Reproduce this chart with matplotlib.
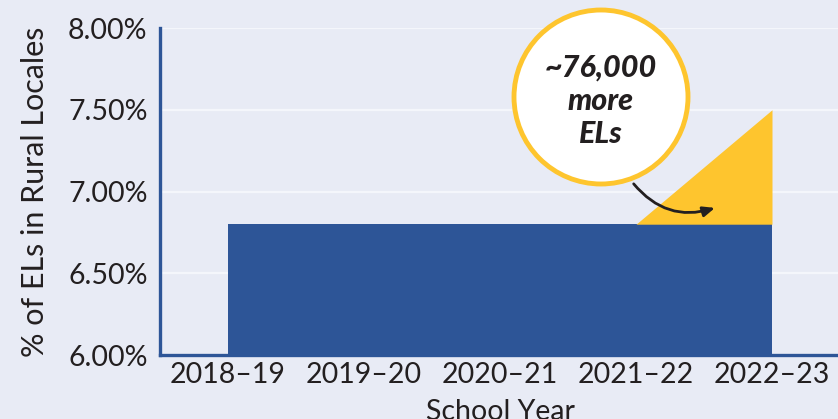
"""Share of English learners in rural locales, 2018-19 to 2022-23."""

import matplotlib

matplotlib.use("Agg")
import matplotlib.pyplot as plt
from matplotlib.patches import Circle
from matplotlib.ticker import FuncFormatter

SCHOOL_YEARS = ["2018–19", "2019–20", "2020–21", "2021–22", "2022–23"]
BASELINE_PCT = [6.80, 6.80, 6.80, 6.80, 6.80]
# growth above the baseline; only the last two years are drawn
GROWTH_YEARS = ["2021–22", "2022–23"]
GROWTH_PCT = [0.00, 0.70]
Y_TICKS = [6.00, 6.50, 7.00, 7.50, 8.00]
CALLOUT_LINES = ["~76,000", "more", "ELs"]

BACKGROUND = "#e8ebf5"
GRID = "#f4f6fb"
BLUE = "#2d5597"
YELLOW = "#fec52e"
INK = "#231f20"

plt.rcParams["font.family"] = ["Lato", "DejaVu Sans"]

fig = plt.figure(figsize=(8.38, 4.19), dpi=100, facecolor=BACKGROUND)
ax = fig.add_axes([160 / 838, 64 / 419, 680 / 838, 327 / 419])
ax.set_facecolor(BACKGROUND)

x = list(range(len(SCHOOL_YEARS)))
ax.fill_between(x, 0, BASELINE_PCT, color=BLUE, linewidth=0, zorder=2)

gx = [SCHOOL_YEARS.index(year) for year in GROWTH_YEARS]
base = [BASELINE_PCT[i] for i in gx]
top = [b + g for b, g in zip(base, GROWTH_PCT)]
ax.fill_between(gx, base, top, color=YELLOW, linewidth=0, zorder=2)

ax.set_xlim(-0.5, len(SCHOOL_YEARS) - 0.5)
ax.set_ylim(Y_TICKS[0], Y_TICKS[-1])
ax.set_xticks(x)
ax.set_xticklabels(SCHOOL_YEARS)
ax.set_yticks(Y_TICKS)
ax.yaxis.set_major_formatter(FuncFormatter(lambda v, _: f"{v:.2f}%"))
ax.tick_params(length=0, labelsize=20.5, labelcolor=INK, pad=5)
ax.tick_params(axis="y", pad=9)

ax.grid(axis="y", color=GRID, linewidth=1.6, zorder=1)
ax.set_axisbelow(True)
for side in ("top", "right"):
    ax.spines[side].set_visible(False)
for side in ("left", "bottom"):
    ax.spines[side].set_color(BLUE)
    ax.spines[side].set_linewidth(2.4)
    ax.spines[side].set_zorder(3)

ax.set_xlabel("School Year", fontsize=20.5, color=INK, labelpad=8)
ax.set_ylabel("% of ELs in Rural Locales", fontsize=22, color=INK, labelpad=14)

# callout bubble, placed in figure pixels
circle = Circle(
    (601, 419 - 97),
    87,
    transform=None,
    facecolor="white",
    edgecolor=YELLOW,
    linewidth=3.5,
    zorder=5,
)
fig.patches.append(circle)
for i, line in enumerate(CALLOUT_LINES):
    fig.text(
        601 / 838,
        1 - (68 + 33 * i) / 419,
        line,
        ha="center",
        va="center",
        fontsize=22,
        fontweight="black",
        fontstyle="italic",
        color=INK,
        zorder=6,
    )

ax.annotate(
    "",
    xy=(3.6, 6.905),
    xytext=(2.97, 7.06),
    arrowprops=dict(
        arrowstyle="-|>,head_length=0.7,head_width=0.3",
        color=INK,
        linewidth=2,
        connectionstyle="arc3,rad=0.35",
    ),
    zorder=4,
)

fig.savefig("out.png", dpi=100, facecolor=BACKGROUND)
